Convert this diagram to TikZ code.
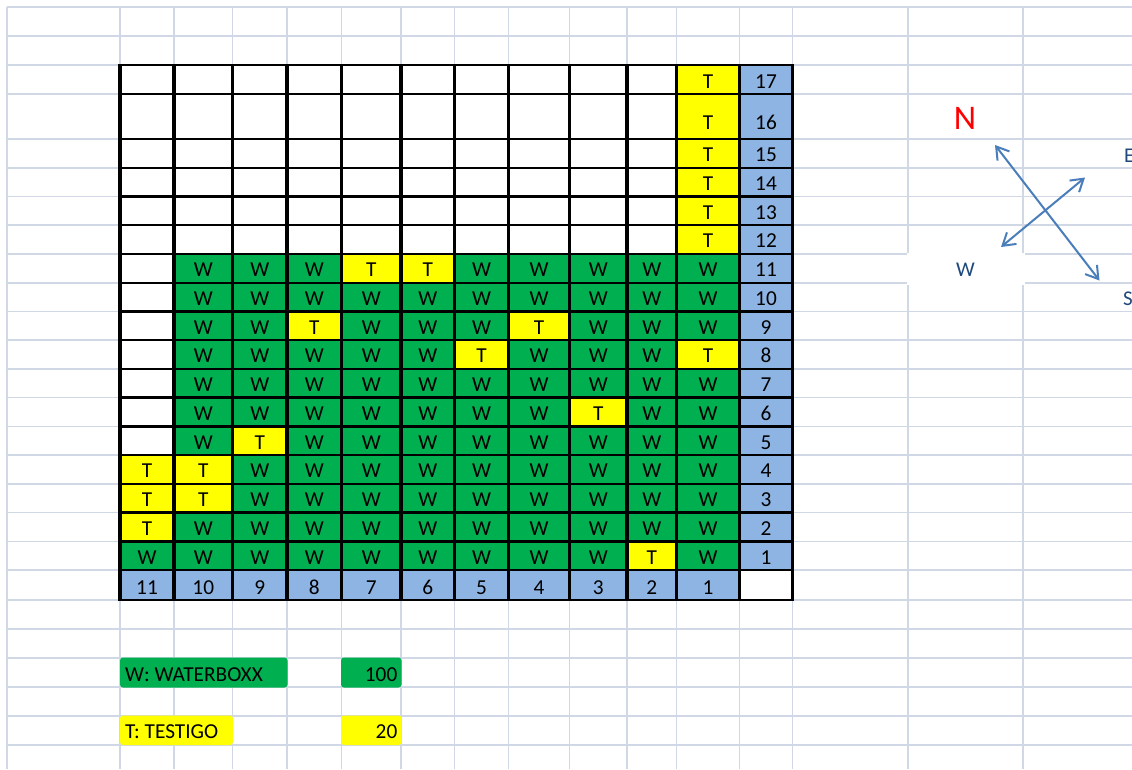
\documentclass[tikz,border=0pt]{standalone}
\usepackage{fontspec}
\setmainfont{Carlito}
\usetikzlibrary{arrows.meta}
\definecolor{xlgreen}{HTML}{00B050}
\definecolor{xlyellow}{HTML}{FFFF00}
\definecolor{xlblue}{HTML}{8DB4E2}
\definecolor{xlgrid}{HTML}{D0D7E5}
\definecolor{arrowblue}{HTML}{4A7EBB}
\definecolor{labelblue}{HTML}{1F497D}
\colorlet{cellE}{white}
\colorlet{cellW}{xlgreen}
\colorlet{cellT}{xlyellow}
\def\txtE{}
\def\txtW{W}
\def\txtT{T}
\def\XL{{120,174,232.5,287,341.5,401,454.5,508.5,569.5,627,676.5,739.5,792.5}}
\def\YL{{65,94,139,167.7,196.5,225.2,253.9,282.7,311.4,340.1,368.9,397.6,426.3,455.1,483.8,512.5,541.3,570,600}}
\newcommand\mkcell[4]{%
  \pgfmathsetmacro\xa{\XL[#1]}%
  \pgfmathsetmacro\xb{\XL[#1+1]}%
  \pgfmathsetmacro\ya{\YL[#2]}%
  \pgfmathsetmacro\yb{\YL[#2+1]}%
  \pgfmathsetmacro\yt{#2==1 ? 129 : \yb-6}%
  \pgfmathsetmacro\xm{(\xa+\xb)/2}%
  \fill[fill=#3] (\xa,\ya) rectangle (\xb,\yb);
  \node[celltext] (c#1-#2) at (\xm,\yt) {#4};
}
\begin{document}
\begin{tikzpicture}[x=1pt,y=-1pt,
  grid line/.style={draw=xlgrid,line width=1.6pt},
  vrule/.style={draw=black,line width=3.2pt},
  hrule/.style={draw=black,line width=2.4pt,line cap=rect},
  celltext/.style={anchor=base,inner sep=0pt,font=\fontsize{21.3}{25}\selectfont},
  legtext/.style={inner sep=0pt,font=\fontsize{21.3}{25}\selectfont},
  legbox/.style={rounded corners=3pt},
  dirlabel/.style={anchor=base,inner sep=0pt,text=labelblue,font=\fontsize{21}{25}\selectfont},
  compass/.style={draw=arrowblue,line width=2pt,
    arrows={Straight Barb[length=12pt,width=15pt]-Straight Barb[length=12pt,width=15pt]}}]
\useasboundingbox (0,0) rectangle (1132,769);
\clip (0,0) rectangle (1132,769);
\fill[white] (0,0) rectangle (1132,769);
% spreadsheet gridlines
\foreach \x in {7,120,174,232.5,287,341.5,401,454.5,508.5,569.5,627,676.5,739.5,792.5,908,1023}
  \draw[grid line] (\x,7) -- (\x,769);
\foreach \y in {7,36,65,94,139,167.7,196.5,225.2,253.9,282.7,311.4,340.1,368.9,397.6,426.3,455.1,483.8,512.5,541.3,570,600,629,658,687,716,745}
  \draw[grid line] (7,\y) -- (1132,\y);
% white text box under the W label
\fill[white] (906.5,252.5) rectangle (1024.5,284.5);
% table cells
\foreach \j/\pat in {
  0/{E,E,E,E,E,E,E,E,E,E,T},
  1/{E,E,E,E,E,E,E,E,E,E,T},
  2/{E,E,E,E,E,E,E,E,E,E,T},
  3/{E,E,E,E,E,E,E,E,E,E,T},
  4/{E,E,E,E,E,E,E,E,E,E,T},
  5/{E,E,E,E,E,E,E,E,E,E,T},
  6/{E,W,W,W,T,T,W,W,W,W,W},
  7/{E,W,W,W,W,W,W,W,W,W,W},
  8/{E,W,W,T,W,W,W,T,W,W,W},
  9/{E,W,W,W,W,W,T,W,W,W,T},
  10/{E,W,W,W,W,W,W,W,W,W,W},
  11/{E,W,W,W,W,W,W,W,T,W,W},
  12/{E,W,T,W,W,W,W,W,W,W,W},
  13/{T,T,W,W,W,W,W,W,W,W,W},
  14/{T,T,W,W,W,W,W,W,W,W,W},
  15/{T,W,W,W,W,W,W,W,W,W,W},
  16/{W,W,W,W,W,W,W,W,W,T,W}}{
  \foreach \t [count=\k from 0] in \pat {
    \mkcell{\k}{\j}{cell\t}{\csname txt\t\endcsname}
  }
}
% row labels
\foreach \j in {0,...,16}{
  \pgfmathtruncatemacro\lab{17-\j}
  \mkcell{11}{\j}{xlblue}{\lab}
}
% column labels
\foreach \i in {0,...,10}{
  \pgfmathtruncatemacro\lab{11-\i}
  \mkcell{\i}{17}{xlblue}{\lab}
}
\mkcell{11}{17}{white}{}
% table borders
\foreach \x in {120,174,232.5,287,341.5,401,454.5,508.5,569.5,627,676.5,739.5,792.5}
  \draw[vrule] (\x,63.8) -- (\x,601.2);
\foreach \y in {65,94,139,167.7,196.5,225.2,253.9,282.7,311.4,340.1,368.9,397.6,426.3,455.1,483.8,512.5,541.3,570,600}
  \draw[hrule] (120,\y) -- (792.5,\y);
% legend
\fill[xlgreen,legbox] (120,657.5) rectangle (287.5,687.5);
\fill[xlgreen,legbox] (341,657.5) rectangle (401.5,687.5);
\fill[xlyellow,legbox] (120,715.5) rectangle (233,745);
\fill[xlyellow,legbox] (341,715.5) rectangle (401.5,745);
\node[legtext,anchor=base west] (legW) at (125,681) {W: WATERBOXX};
\node[legtext,anchor=base east] (numW) at (397.5,681) {100};
\node[legtext,anchor=base west] (legT) at (125,738) {T: TESTIGO};
\node[legtext,anchor=base east] (numT) at (397.5,738) {20};
% compass
\node[anchor=base,inner sep=0pt,text=red,font=\fontsize{34.5}{40}\selectfont] (lblN) at (965,129) {N};
\node[dirlabel] (lblW) at (965.5,276) {W};
\node[dirlabel,anchor=base west] (lblE) at (1124,162) {E};
\node[dirlabel,anchor=base west] (lblS) at (1123,305) {S};
\coordinate (tipN) at (995,145);
\coordinate (tipS) at (1099.5,280.5);
\coordinate (tipW) at (1001,247);
\coordinate (tipE) at (1085,177.5);
\draw[compass] (tipN) -- (tipS);
\draw[compass] (tipW) -- (tipE);
\end{tikzpicture}
\end{document}
